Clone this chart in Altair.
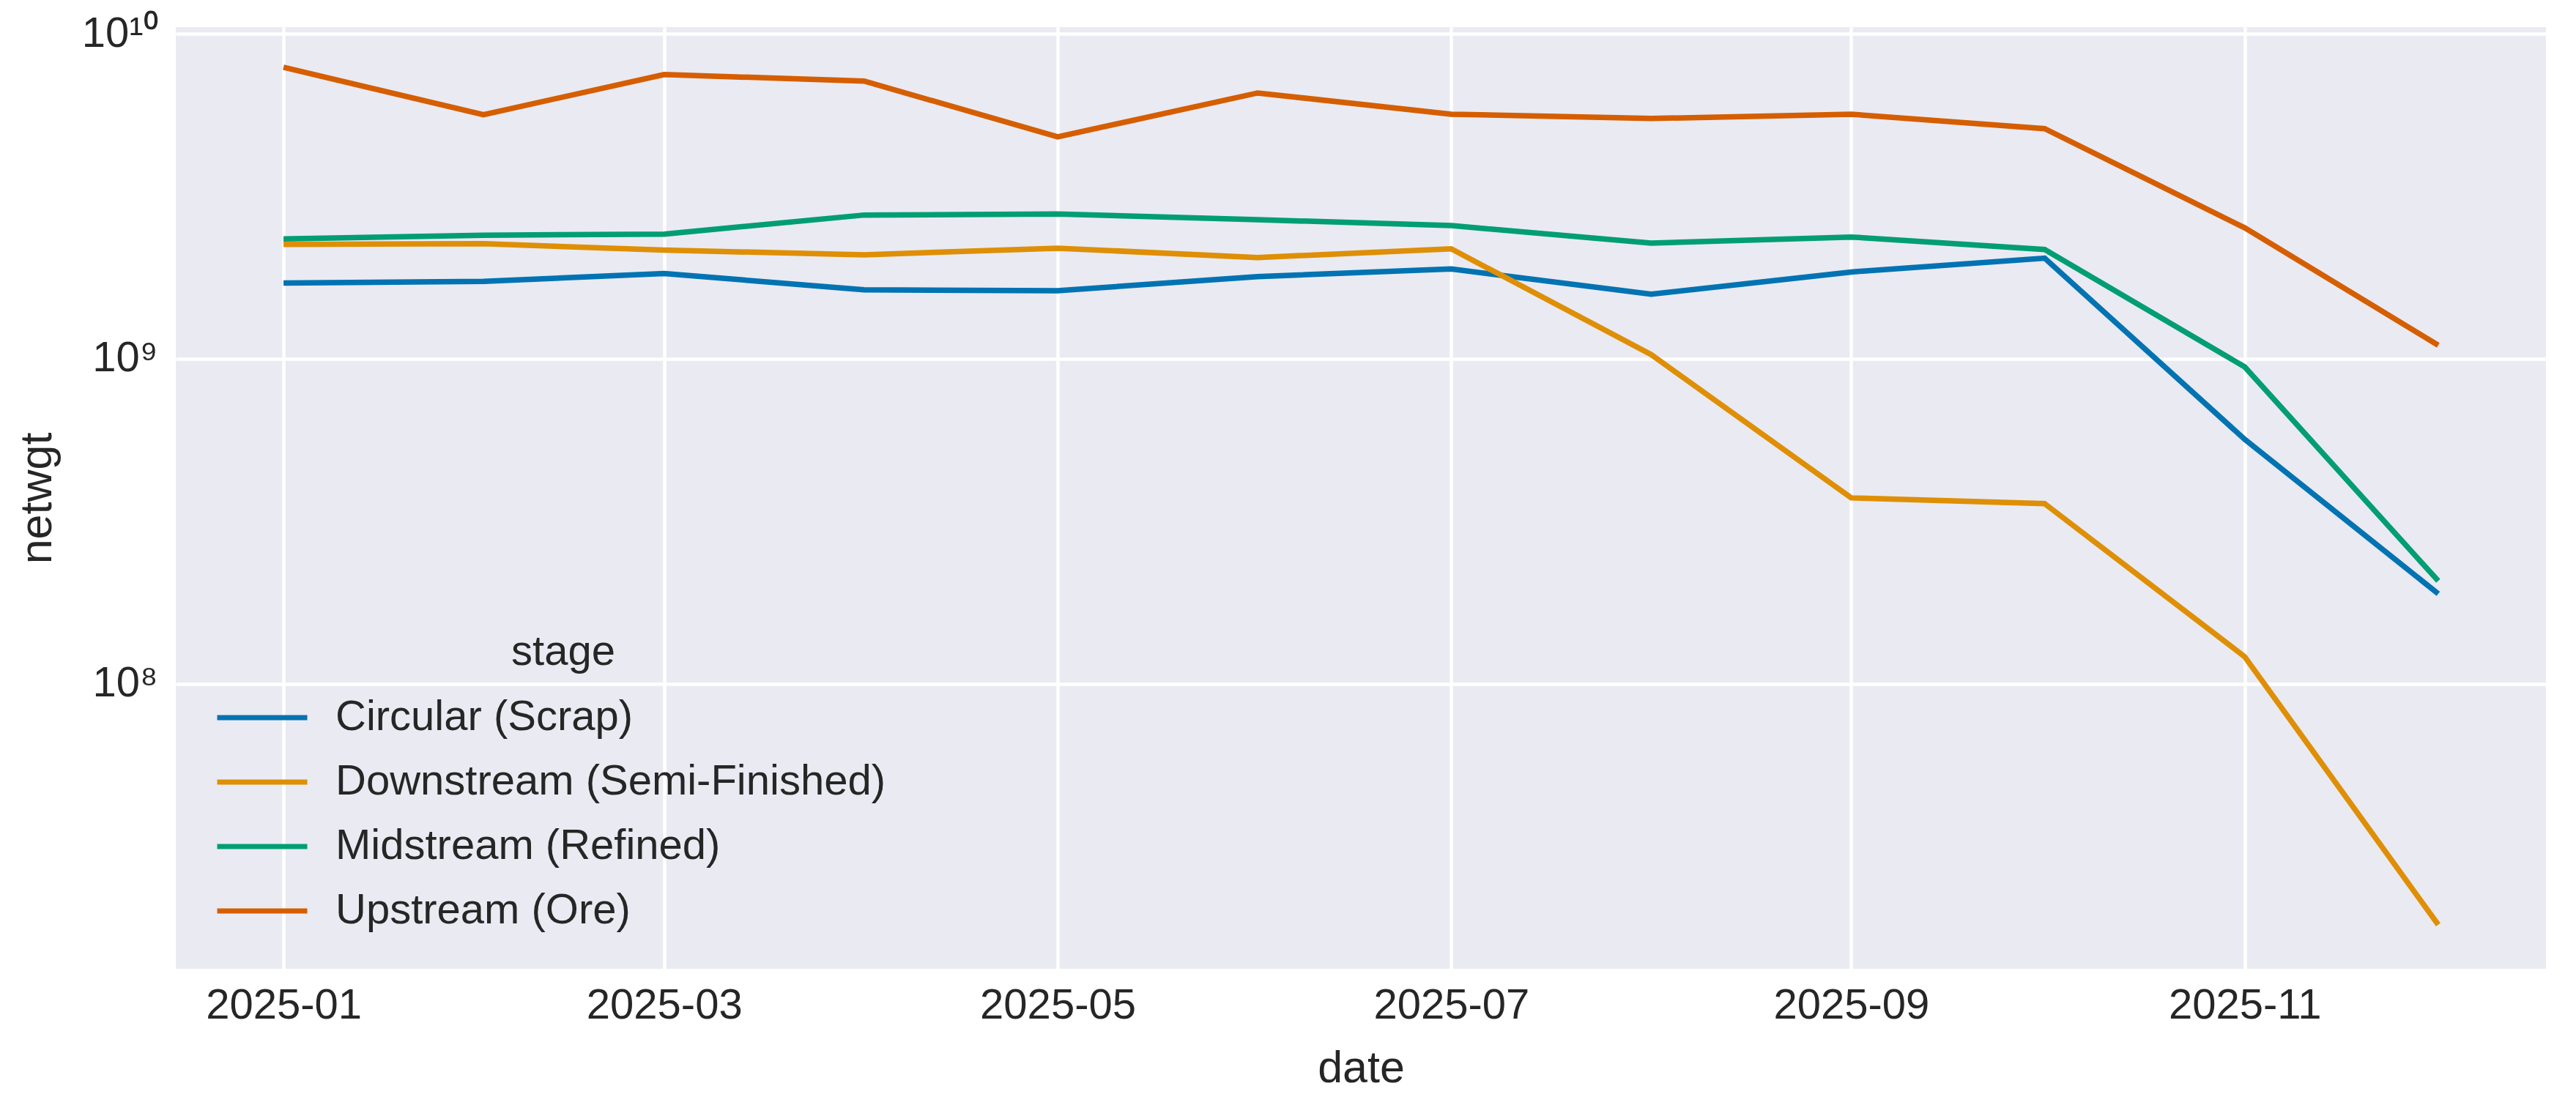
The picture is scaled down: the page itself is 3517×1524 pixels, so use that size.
import datetime as dt
import altair as alt
import pandas as pd

months = ["2025-01-01", "2025-02-01", "2025-03-01", "2025-04-01", "2025-05-01", "2025-06-01",
          "2025-07-01", "2025-08-01", "2025-09-01", "2025-10-01", "2025-11-01", "2025-12-01"]

stages = ["Circular (Scrap)", "Downstream (Semi-Finished)", "Midstream (Refined)", "Upstream (Ore)"]

circular = [1.71e9, 1.73e9, 1.83e9, 1.63e9, 1.62e9, 1.79e9, 1.89e9, 1.58e9, 1.85e9, 2.04e9, 5.65e8, 1.89e8]
downstream = [2.25e9, 2.26e9, 2.16e9, 2.09e9, 2.19e9, 2.05e9, 2.18e9, 1.03e9, 3.73e8, 3.58e8, 1.21e8, 1.81e7]
midstream = [2.34e9, 2.40e9, 2.42e9, 2.77e9, 2.79e9, 2.68e9, 2.57e9, 2.27e9, 2.37e9, 2.17e9, 9.44e8, 2.07e8]
upstream = [7.89e9, 5.64e9, 7.50e9, 7.16e9, 4.82e9, 6.58e9, 5.66e9, 5.49e9, 5.66e9, 5.11e9, 2.53e9, 1.10e9]

colors = ["#0173B2", "#DE8F05", "#029E73", "#D55E00"]

x_ticks = ["2025-01-01", "2025-03-01", "2025-05-01", "2025-07-01", "2025-09-01", "2025-11-01"]
y_ticks = [1e8, 1e9, 1e10]

series = [circular, downstream, midstream, upstream]
rows = []
for name, vals in zip(stages, series):
    for m, v in zip(months, vals):
        rows.append({"date": m, "netwgt": v, "stage": name})
df = pd.DataFrame(rows)


def ms(s, shift_days=0.0):
    d = dt.datetime.strptime(s, "%Y-%m-%d").replace(tzinfo=dt.timezone.utc)
    d = d + dt.timedelta(days=shift_days)
    return int(d.timestamp() * 1000)


x_domain = [ms(months[0], -16.7), ms(months[-1], 16.7)]
x_tick_ms = [ms(s) for s in x_ticks]

FONT = "Liberation Sans"
TXT = "#262626"

chart = alt.Chart(df).mark_line(strokeWidth=7.5).encode(
    x=alt.X("date:T",
            scale=alt.Scale(type="utc", domain=x_domain, nice=False),
            axis=alt.Axis(values=x_tick_ms, labelExpr="utcFormat(datum.value, '%Y-%m')",
                          title="date", labelFontSize=58, titleFontSize=61,
                          labelPadding=21, titleY=154, titleBaseline="alphabetic",
                          labelFlush=False, labelLimit=0)),
    y=alt.Y("netwgt:Q",
            scale=alt.Scale(type="log", domain=[10 ** 7.122, 10 ** 10.021], nice=False),
            axis=alt.Axis(values=y_ticks,
                          labelExpr="datum.value >= 5e9 ? '10\u00b9\u2070' : (datum.value >= 5e8 ? '10\u2079' : '10\u2078')",
                          title="netwgt", labelFontSize=58, titleFontSize=61,
                          labelPadding=25, titleX=-171, titleBaseline="alphabetic",
                          labelFlush=False, labelLimit=0)),
    color=alt.Color("stage:N",
                    scale=alt.Scale(domain=stages, range=colors),
                    legend=alt.Legend(title="stage", orient="none", legendX=89, legendY=825,
                                      symbolType="M-3,0H3", symbolSize=1681,
                                      symbolStrokeWidth=7, labelFontSize=58,
                                      titleFontSize=58, titleFontWeight="normal",
                                      labelOffset=71, rowPadding=30, titlePadding=31,
                                      titleAnchor="middle", padding=0,
                                      labelLimit=0, titleLimit=0,
                                      labelColor=TXT, titleColor=TXT,
                                      labelFont=FONT, titleFont=FONT)),
).properties(
    width=3236, height=1286,
    autosize=alt.AutoSizeParams(type="none"),
    padding={"left": 232, "top": 29, "right": 25, "bottom": 170},
    background="white",
).configure_view(
    fill="#EAEAF2", stroke=None
).configure_axis(
    grid=True, gridColor="white", gridWidth=4.5, domain=False, ticks=False,
    labelFont=FONT, titleFont=FONT, labelColor=TXT, titleColor=TXT,
    titleFontWeight="normal"
)

chart.save("out.html", embed_options={"renderer": "svg", "actions": False})
